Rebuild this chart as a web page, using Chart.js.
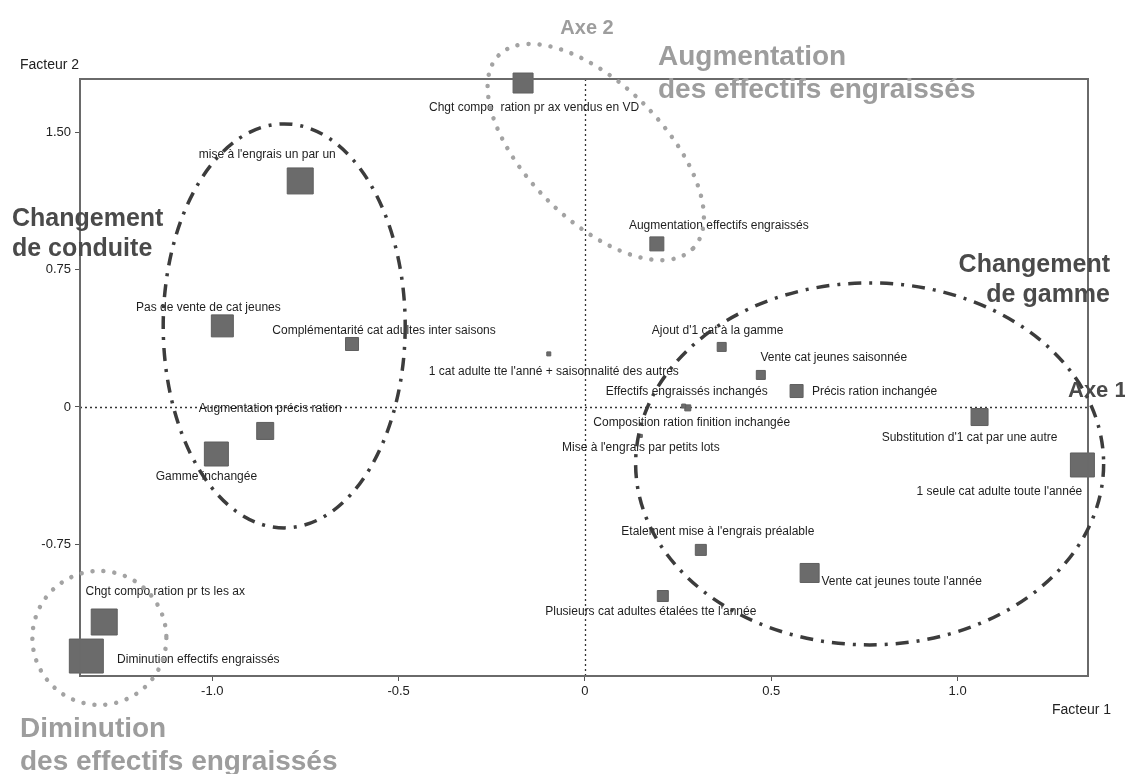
<!DOCTYPE html>
<html>
<head>
<meta charset="utf-8">
<script src="https://cdn.jsdelivr.net/npm/chart.js@4.4.0/dist/chart.umd.min.js"></script>
<style>
  html, body { margin: 0; padding: 0; background: #fff; }
  canvas { display: block; }
</style>
</head>
<body>
<canvas id="acmChart" width="1125" height="774"></canvas>
<script>
// modalites (ACM) - coordonnees sur les facteurs 1 et 2
const modalites = [
    "Chgt compo  ration pr ax vendus en VD",
    "mise à l'engrais un par un",
    "Augmentation effectifs engraissés",
    "Pas de vente de cat jeunes",
    "Complémentarité cat adultes inter saisons",
    "1 cat adulte tte l'anné + saisonnalité des autres",
    "Ajout d'1 cat à la gamme",
    "Vente cat jeunes saisonnée",
    "Précis ration inchangée",
    "Effectifs engraissés inchangés",
    "Composition ration finition inchangée",
    "Mise à l'engrais par petits lots",
    "Substitution d'1 cat par une autre",
    "1 seule cat adulte toute l'année",
    "Augmentation précis ration",
    "Gamme inchangée",
    "Etalement mise à l'engrais préalable",
    "Vente cat jeunes toute l'année",
    "Plusieurs cat adultes étalées tte l'année",
    "Chgt compo ration pr ts les ax",
    "Diminution effectifs engraissés"
];
const facteur1 = [-0.166, -0.764, 0.193, -0.973, -0.625, -0.097, 0.367, 0.472, 0.568, 0.276, 0.265,
                  0.150, 1.059, 1.335, -0.858, -0.989, 0.311, 0.603, 0.209, -1.290, -1.338];
const facteur2 = [1.770, 1.235, 0.891, 0.443, 0.344, 0.290, 0.328, 0.175, 0.087, -0.005, 0.005,
                  -0.158, -0.055, -0.317, -0.131, -0.257, -0.781, -0.907, -1.033, -1.175, -1.361];

const xTicks = [-1.0, -0.5, 0, 0.5, 1.0];
const xTickLabels = ['-1.0', '-0.5', '0', '0.5', '1.0'];
const yTicks = [1.5, 0.75, 0, -0.75];
const yTickLabels = ['1.50', '0.75', '0', '-0.75'];

// style: square side in px and label offset (px) for each modality
const squareSides = [20, 26, 14, 22, 13, 4, 9, 9, 13, 6, 4, 3, 17, 24, 17, 24, 11, 19, 11, 26, 34];
const labelOffsets = [
    [11, 25], [-33, -26], [62, -18], [-14, -18], [32, -13], [5, 18], [-4, -16], [73, -17],
    [78, 1], [-1, -16], [8, 17], [0, 12], [-10, 21], [-83, 27], [5, -22], [-10, 23],
    [17, -18], [92, 9], [-12, 16], [61, -30], [112, 4]
];

// groupings drawn around modalities (centre in factor units, radii in px)
const groupes = [
    { cx: -0.807, cy: 0.443, rx: 121, ry: 202, angle: 0, style: 'dashdot' },
    { cx: 0.764, cy: -0.311, rx: 234, ry: 181, angle: 0, style: 'dashdot' },
    { cx: 0.029, cy: 1.393, rx: 137, ry: 68, angle: Math.PI / 4, style: 'dots' },
    { cx: -1.303, cy: -1.262, rx: 67, ry: 67, angle: 0, style: 'dots' }
];

const FONT = '"Liberation Sans", Arial, sans-serif';

const decorPlugin = {
    id: 'acmDecor',
    beforeDatasetsDraw(chart) {
        const { ctx, chartArea: a, scales: { x, y } } = chart;
        ctx.save();
        ctx.strokeStyle = '#333';
        ctx.lineWidth = 1.3;
        ctx.setLineDash([2, 3]);
        const x0 = Math.round(x.getPixelForValue(0)) + 0.5;
        const y0 = Math.round(y.getPixelForValue(0)) + 0.5;
        ctx.beginPath();
        ctx.moveTo(x0, a.top);
        ctx.lineTo(x0, a.bottom);
        ctx.moveTo(a.left, y0);
        ctx.lineTo(a.right, y0);
        ctx.stroke();
        ctx.restore();
    },
    afterDatasetsDraw(chart) {
        const { ctx, chartArea: a, scales: { x, y } } = chart;
        const meta = chart.getDatasetMeta(0);

        // modality labels
        ctx.save();
        ctx.font = '12px ' + FONT;
        ctx.fillStyle = '#1e1e1e';
        ctx.textAlign = 'center';
        ctx.textBaseline = 'middle';
        meta.data.forEach((pt, i) => {
            ctx.fillText(modalites[i], pt.x + labelOffsets[i][0], pt.y + labelOffsets[i][1]);
        });
        ctx.restore();

        // plot frame
        ctx.save();
        ctx.strokeStyle = '#6a6a6a';
        ctx.lineWidth = 2;
        ctx.strokeRect(a.left, a.top, a.right - a.left, a.bottom - a.top);
        ctx.restore();

        // group ellipses
        groupes.forEach(g => {
            ctx.save();
            if (g.style === 'dashdot') {
                ctx.strokeStyle = '#3c3c3c';
                ctx.lineWidth = 3.5;
                ctx.setLineDash([13, 8, 3, 8]);
            } else {
                ctx.strokeStyle = '#a3a3a3';
                ctx.lineWidth = 4.5;
                ctx.lineCap = 'round';
                ctx.setLineDash([0.01, 11]);
            }
            ctx.beginPath();
            ctx.ellipse(x.getPixelForValue(g.cx), y.getPixelForValue(g.cy), g.rx, g.ry, g.angle, 0, Math.PI * 2);
            ctx.stroke();
            ctx.restore();
        });
    },
    afterDraw(chart) {
        const ctx = chart.ctx;
        ctx.save();
        ctx.textBaseline = 'alphabetic';

        // axis names
        ctx.fillStyle = '#222';
        ctx.font = '14px ' + FONT;
        ctx.textAlign = 'left';
        ctx.fillText('Facteur 2', 20, 69);
        ctx.fillText('Facteur 1', 1052, 714);

        // light grey titles
        ctx.fillStyle = '#9d9d9d';
        ctx.font = 'bold 28px ' + FONT;
        ctx.fillText('Augmentation', 658, 65);
        ctx.fillText('des effectifs engraissés', 658, 98);
        ctx.fillText('Diminution', 20, 737);
        ctx.fillText('des effectifs engraissés', 20, 770);
        ctx.font = 'bold 20px ' + FONT;
        ctx.textAlign = 'center';
        ctx.fillText('Axe 2', 587, 34);

        // dark titles
        ctx.fillStyle = '#4a4a4a';
        ctx.font = 'bold 25px ' + FONT;
        ctx.textAlign = 'left';
        ctx.fillText('Changement', 12, 226);
        ctx.fillText('de conduite', 12, 256);
        ctx.textAlign = 'right';
        ctx.fillText('Changement', 1110, 272);
        ctx.fillText('de gamme', 1110, 302);
        ctx.textAlign = 'left';
        ctx.font = 'bold 22px ' + FONT;
        ctx.fillText('Axe 1', 1068, 397);
        ctx.restore();
    }
};

const ctx = document.getElementById('acmChart').getContext('2d');

new Chart(ctx, {
    type: 'scatter',
    data: {
        datasets: [{
            label: 'Modalités',
            data: facteur1.map((v, i) => ({ x: v, y: facteur2[i] })),
            pointStyle: 'rect',
            pointRadius: squareSides.map(s => s / Math.SQRT2),
            backgroundColor: '#6b6b6b',
            borderColor: '#5f5f5f',
            borderWidth: 1,
            clip: false
        }]
    },
    options: {
        responsive: false,
        animation: false,
        events: [],
        layout: {
            padding: { top: 79, right: 37, left: 0, bottom: 0 }
        },
        plugins: {
            legend: { display: false },
            tooltip: { enabled: false }
        },
        scales: {
            x: {
                type: 'linear',
                min: -1.355,
                max: 1.35,
                afterFit: s => { s.height = 98; },
                afterBuildTicks: s => { s.ticks = xTicks.map(v => ({ value: v })); },
                ticks: {
                    callback: (v) => xTickLabels[xTicks.indexOf(v)],
                    color: '#222',
                    font: { family: FONT, size: 13 },
                    padding: 3,
                    maxRotation: 0
                },
                grid: { drawOnChartArea: false, drawTicks: true, tickLength: 5, color: '#555' },
                border: { display: false }
            },
            y: {
                type: 'linear',
                min: -1.47,
                max: 1.792,
                afterFit: s => { s.width = 80; },
                afterBuildTicks: s => { s.ticks = yTicks.map(v => ({ value: v })); },
                ticks: {
                    callback: (v) => yTickLabels[yTicks.indexOf(v)],
                    color: '#222',
                    font: { family: FONT, size: 13 },
                    padding: 4
                },
                grid: { drawOnChartArea: false, drawTicks: true, tickLength: 5, color: '#555' },
                border: { display: false }
            }
        }
    },
    plugins: [decorPlugin]
});
</script>
</body>
</html>
